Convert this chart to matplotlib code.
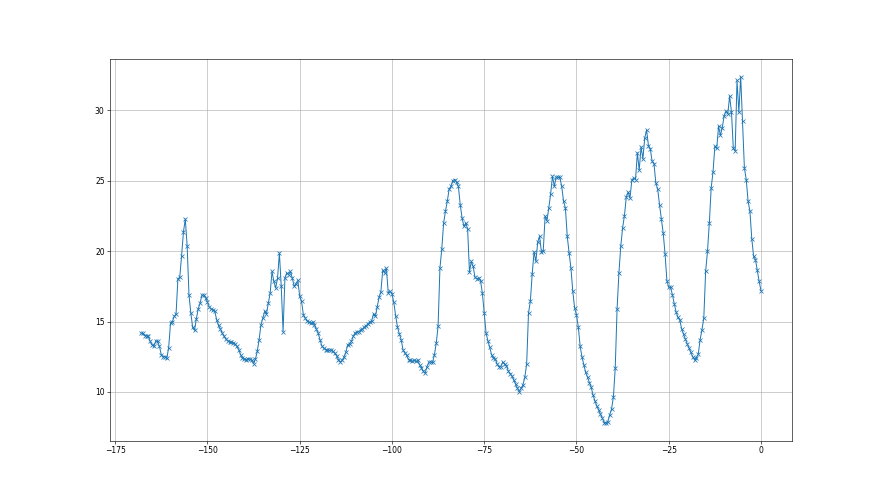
import numpy as np
import matplotlib
matplotlib.use("Agg")
import matplotlib.pyplot as plt

# half-hourly readings, hours relative to now (-168 .. 0)
seg_a = [14.18, 14.15, 14.0, 13.98, 13.94, 13.58, 13.35, 13.23, 13.63, 13.58,
         13.23, 12.63, 12.49, 12.51, 12.4, 13.15, 14.89, 15.0, 15.36, 15.53,
         18.04, 18.14, 19.68, 21.36, 22.29, 20.4, 16.9, 15.6, 14.58, 14.37,
         15.2, 15.9, 16.3, 16.86, 16.9, 16.7, 16.38, 16.03, 15.9, 15.84,
         15.72, 15.12, 14.72, 14.48, 14.18, 13.94, 13.75, 13.63, 13.54, 13.54,
         13.49, 13.4, 13.23, 12.99, 12.63, 12.44, 12.35, 12.28]
seg_b = [12.37, 12.33, 12.23, 11.99, 12.33, 12.87, 13.7, 14.77, 15.22, 15.72,
         15.55, 16.31, 17.02, 18.56, 17.85, 17.38, 18.09, 19.87, 17.5, 14.29,
         18.09, 18.45, 18.33, 18.56, 18.09, 17.5, 17.69, 17.92, 16.79, 16.43,
         15.48, 15.24, 15.05, 14.96, 14.89, 14.94, 14.77, 14.46, 14.18, 13.7,
         13.27, 13.11, 12.99, 12.99, 12.94, 12.99, 12.87, 12.75, 12.56, 12.28,
         12.14, 12.23, 12.47, 12.8, 13.35, 13.42, 13.58]
seg_c = [13.94, 14.18, 14.25, 14.29, 14.37, 14.46, 14.6, 14.7, 14.84, 14.96,
         15.05, 15.55, 15.36, 16.03, 16.71, 17.12, 18.64, 18.45, 18.78, 17.02,
         17.14, 16.98, 16.36, 15.41, 14.6, 14.13, 13.7, 12.99, 12.75, 12.59,
         12.28, 12.23, 12.18, 12.23, 12.16, 12.23, 11.92, 11.73, 11.45, 11.33,
         11.8, 12.09, 12.14, 12.09, 12.63, 13.46, 14.65, 18.8, 20.15, 22.0,
         22.84, 23.55, 24.42, 24.61, 25.02, 25.09, 24.9]
seg_d = [24.61, 23.31, 22.36, 21.77, 22.0, 21.6, 18.52, 19.28, 18.92, 18.14,
         18.04, 18.09, 17.9, 17.02, 15.6, 14.18, 13.63, 13.16, 12.63, 12.44,
         12.35, 11.97, 11.8, 11.8, 12.11, 11.97, 11.87, 11.49, 11.3, 11.14,
         10.85, 10.55, 10.26, 10.02, 10.26, 10.5, 11.04, 11.97, 15.6, 16.43,
         18.37, 19.94, 19.28, 20.65, 21.06, 19.94, 20.04, 22.48, 22.17, 23.07,
         24.07, 25.33, 24.61, 25.26, 25.26, 25.24, 24.6]
seg_e = [23.55, 23.07, 21.06, 19.87, 18.8, 17.14, 15.95, 15.48, 14.6, 13.23,
         12.47, 11.92, 11.38, 11.04, 10.66, 10.31, 9.76, 9.36, 9.0, 8.72,
         8.41, 8.13, 7.82, 7.77, 7.89, 8.36, 8.77, 9.62, 11.68, 15.88,
         18.45, 20.34, 21.65, 22.53, 23.86, 24.19, 23.78, 25.04, 25.21, 25.09,
         26.99, 25.75, 27.41, 26.56, 28.05, 28.6, 27.51, 27.27, 26.39, 26.23,
         24.85, 24.42, 23.31, 22.29, 21.29, 19.82, 17.9]
seg_f = [17.43, 17.43, 16.9, 16.26, 15.67, 15.29, 15.1, 14.48, 14.1, 13.75,
         13.42, 13.11, 12.82, 12.49, 12.28, 12.44, 12.68, 13.7, 14.41, 15.24,
         18.56, 19.99, 22.0, 24.5, 25.63, 27.46, 27.3, 28.88, 28.24, 28.77,
         29.6, 29.95, 29.76, 31.02, 29.88, 27.3, 27.15, 32.14, 29.88, 32.4,
         29.24, 25.92, 25.09, 23.55, 22.84, 20.89, 19.63, 19.4, 18.64, 17.85,
         17.19]

values = seg_a + seg_b + seg_c + seg_d + seg_e + seg_f
hours = np.arange(-168, 0.25, 0.5)[:len(values)]

fig, ax = plt.subplots(figsize=(16, 9), dpi=55)
ax.plot(hours, values, marker='x', markersize=5, linewidth=1.3, color='tab:blue')
ax.grid(True)

fig.savefig("out.png", dpi=55)
